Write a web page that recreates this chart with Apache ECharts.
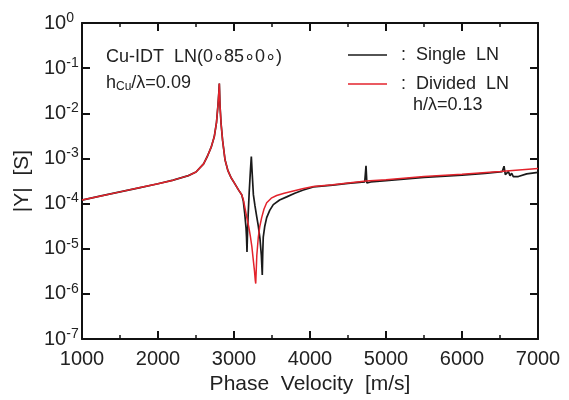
<!DOCTYPE html>
<html>
<head>
<meta charset="utf-8">
<script src="https://cdn.jsdelivr.net/npm/echarts@6/dist/echarts.min.js"></script>
<style>html,body{margin:0;padding:0;background:#fff}#c{width:569px;height:400px}</style>
</head>
<body>
<div id="c"></div>
<script>
// Shared part (both curves coincide) : phase velocity [m/s] and |Y| [S]
const commonV = [1000,1250,1500,1750,2000,2200,2400,2500,2600,2650,2700,2740,2770,2790,2800,2807,2815,2830,2850,2882,2920,2960,3000,3057,3101];
const commonY = [1.20e-4,1.48e-4,1.82e-4,2.24e-4,2.75e-4,3.31e-4,4.17e-4,5.01e-4,7.59e-4,1.12e-3,1.78e-3,3.02e-3,6.31e-3,1.58e-2,2.82e-2,4.57e-2,1.58e-2,5.89e-3,2.51e-3,9.33e-4,5.37e-4,3.80e-4,2.95e-4,2.04e-4,1.58e-4];
// Single LN
const singleV = [3123,3140,3158,3165,3171,3176,3185,3200,3215,3228,3240,3255,3276,3300,3320,3342,3360,3372,3378,3385,3405,3430,3470,3517,3600,3693,3800,3912,4044,4300,4500,4720,4737,4748,4800,5000,5500,6000,6300,6530,6553,6570,6588,6610,6632,6654,6675,6697,6741,6851,7000];
const singleY = [1.12e-4,6.3e-5,2.95e-5,1.78e-5,8.5e-6,1.78e-5,5.0e-5,1.78e-4,5.0e-4,1.10e-3,4.47e-4,1.58e-4,8.9e-5,5.0e-5,3.16e-5,1.66e-5,7.1e-6,2.63e-6,7.9e-6,1.82e-5,3.16e-5,4.9e-5,7.1e-5,9.5e-5,1.20e-4,1.41e-4,1.70e-4,2.0e-4,2.34e-4,2.57e-4,2.82e-4,3.02e-4,6.9e-4,2.88e-4,3.02e-4,3.24e-4,3.80e-4,4.27e-4,4.68e-4,5.13e-4,6.76e-4,4.37e-4,4.57e-4,5.13e-4,4.17e-4,4.68e-4,3.98e-4,4.37e-4,3.98e-4,4.57e-4,4.90e-4];
// Divided LN
const dividedV = [3123,3145,3170,3195,3215,3235,3254,3270,3280,3286,3292,3300,3320,3340,3364,3395,3430,3490,3561,3660,3780,3900,4044,4300,4500,4737,5000,5500,6000,6500,7000];
const dividedY = [1.23e-4,7.9e-5,4.8e-5,3.0e-5,1.91e-5,1.12e-5,5.6e-6,3.16e-6,2.0e-6,1.70e-6,3.16e-6,7.1e-6,1.82e-5,3.16e-5,4.9e-5,7.6e-5,1.05e-4,1.32e-4,1.51e-4,1.70e-4,1.91e-4,2.14e-4,2.40e-4,2.63e-4,2.88e-4,3.16e-4,3.39e-4,3.98e-4,4.47e-4,5.13e-4,6.03e-4];
const xTicks = {min:1000, max:7000, step:1000};
const yTicks = {min:1e-7, max:1};

const pairs = (vs, ys) => vs.map((v,i)=>[v, ys[i]]);
const singleData = pairs(commonV.concat(singleV), commonY.concat(singleY));
const dividedData = pairs(commonV.concat(dividedV), commonY.concat(dividedY));

const FONT = 'Liberation Sans';
const TXT = '#222';
const chart = echarts.init(document.getElementById('c'), null, {renderer:'canvas'});
const axisLine = {show:true, onZero:false, lineStyle:{color:'#111', width:2}};
const tick = {show:true, inside:true, length:8, lineStyle:{color:'#111', width:2}};
const minor = {show:true, splitNumber:2, length:4, lineStyle:{color:'#111', width:1.5}};
chart.setOption({
  animation:false,
  backgroundColor:'#fff',
  grid:{left:82, right:31, top:23, bottom:58, containLabel:false},
  legend:{
    left:343, top:40, orient:'vertical', itemWidth:39, itemHeight:1.6, itemGap:9, icon:'rect',
    data:['Single LN','Divided LN'],
    formatter: n => ':  ' + n.replace(' ', '  '),
    textStyle:{fontFamily:FONT, fontSize:18, color:TXT, lineHeight:20, padding:[0,0,0,9]},
    selectedMode:false
  },
  xAxis:[
    {type:'value', min:xTicks.min, max:xTicks.max, interval:xTicks.step, position:'bottom',
     name:'Phase  Velocity  [m/s]', nameLocation:'middle', nameGap:28,
     nameTextStyle:{fontFamily:FONT, fontSize:21, color:TXT},
     axisLine, axisTick:tick, minorTick:minor, splitLine:{show:false},
     axisLabel:{fontFamily:FONT, fontSize:20, color:TXT, margin:10, formatter: v => String(v)}},
    {type:'value', min:xTicks.min, max:xTicks.max, interval:xTicks.step, position:'top',
     axisLine, axisTick:tick, minorTick:minor, splitLine:{show:false}, axisLabel:{show:false}}
  ],
  yAxis:[
    {type:'log', logBase:10, min:yTicks.min, max:yTicks.max, interval:1, position:'left',
     name:'|Y|  [S]', nameLocation:'middle', nameGap:41, nameRotate:90,
     nameTextStyle:{fontFamily:FONT, fontSize:21, color:TXT},
     axisLine, axisTick:tick, splitLine:{show:false}, minorTick:{show:false},
     axisLabel:{margin:38, align:'left',
       formatter: v => '{a|10}{b|' + Math.round(Math.log10(v)) + '}',
       rich:{a:{fontFamily:FONT, fontSize:20, color:TXT},
             b:{fontFamily:FONT, fontSize:14, color:TXT, padding:[0,0,10,0]}}}},
    {type:'log', logBase:10, min:yTicks.min, max:yTicks.max, interval:1, position:'right',
     axisLine, axisTick:tick, splitLine:{show:false}, minorTick:{show:false}, axisLabel:{show:false}}
  ],
  series:[
    {name:'Single LN', type:'line', data:singleData, showSymbol:false, symbol:'none',
     lineStyle:{color:'#1a1a1a', width:1.7}, itemStyle:{color:'#1a1a1a'}, z:2},
    {name:'Divided LN', type:'line', data:dividedData, showSymbol:false, symbol:'none',
     lineStyle:{color:'#e3232c', width:1.5}, itemStyle:{color:'#e3232c'}, z:3}
  ],
  graphic:[
    {type:'text', left:106, top:48, style:{text:'Cu-IDT  LN(0\u221885\u22180\u2218)', font:'18px "Liberation Sans"', fill:TXT}},
    {type:'text', left:106, top:74, style:{text:'{n|h}{s|Cu}{n|/\u03bb=0.09}',
      rich:{n:{fontFamily:FONT, fontSize:18, fill:TXT, color:TXT}, s:{fontFamily:FONT, fontSize:12, color:TXT, fill:TXT, padding:[8,0,0,0]}}}},
    {type:'text', left:413, top:96, style:{text:'h/\u03bb=0.13', font:'18px "Liberation Sans"', fill:TXT}}
  ]
});
</script>
</body>
</html>
